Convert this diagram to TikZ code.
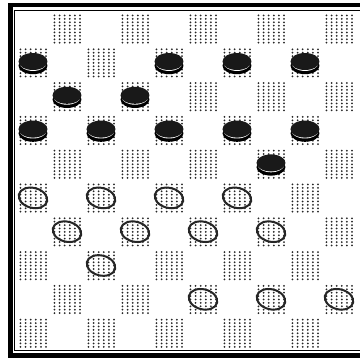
\documentclass[tikz,border=0pt]{standalone}
\begin{document}
\begin{tikzpicture}[x=1pt,y=-1pt]
\tikzset{
  dotc/.style={fill=black!85},
  frameheavy/.style={draw=black,line width=4.5pt},
  framethin/.style={draw=black,line width=0.8pt},
  whitepc/.style={draw=black!85,line width=2pt},
}
\useasboundingbox (0,0) rectangle (360,358);
\clip (0,0) rectangle (360,358);
\fill[white] (0,0) rectangle (360,358);
% dotted dark squares
\foreach \r in {1,...,10}{
  \foreach \c in {1,...,10}{
    \pgfmathtruncatemacro\oddsq{mod(\r+\c,2)}
    \ifnum\oddsq=1
      \foreach \i in {0,...,5}{
        \foreach \j in {0,...,8}{
          \fill[dotc] ({16+(\c-1)*34+4.5+\i*5.1},{12+(\r-1)*33.8+3.5+\j*3.4}) circle (1.0);
        }
      }
    \fi
  }
}
% frame
\draw[frameheavy] (10.5,358) -- (10.5,5) -- (360,5);
\draw[frameheavy,line width=5pt] (8,355.5) -- (360,355.5);
\draw[framethin] (14.5,350.5) -- (14.5,10) -- (360,10);
\draw[framethin] (14.5,350.5) -- (360,350.5);
% black pieces
\foreach \r/\c in {2/1,2/5,2/7,2/9,3/2,3/4,4/1,4/3,4/5,4/7,4/9,5/8}{
  \pgfmathsetmacro\cx{16+(\c-0.5)*34}
  \pgfmathsetmacro\cy{12+(\r-0.5)*33.8}
  \fill[black] (\cx,\cy+3) ellipse (14.5 and 8.5);
  \fill[white] (\cx,\cy+0.6) ellipse (13.3 and 7.6);
  \fill[black!90] (\cx,\cy-1.2) ellipse (14.5 and 8.5);
}
% white pieces
\foreach \r/\c in {6/1,6/3,6/5,6/7,7/2,7/4,7/6,7/8,8/3,9/6,9/8,9/10}{
  \pgfmathsetmacro\cx{16+(\c-0.5)*34}
  \pgfmathsetmacro\cy{12+(\r-0.5)*33.8}
  \draw[whitepc,rotate around={-14:(\cx,\cy)}] (\cx,\cy) ellipse (14.5 and 10);
}
\end{tikzpicture}
\end{document}
